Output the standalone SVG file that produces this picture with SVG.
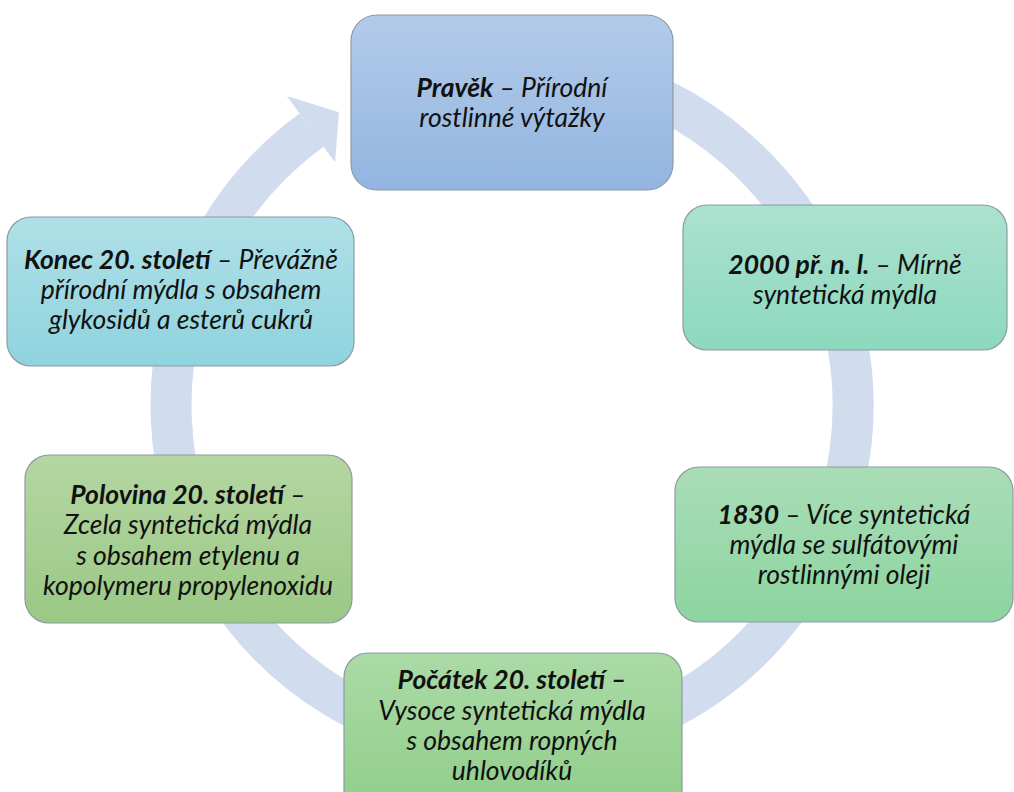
<svg xmlns="http://www.w3.org/2000/svg" width="1014" height="792" viewBox="0 0 1014 792">
  <style>
    .box { stroke: #8c9aa6; stroke-width: 1.2; }
    .t { font-family: Lato, "Open Sans", "Liberation Sans", sans-serif; font-size: 26.5px; font-style: italic; fill: #111; text-anchor: middle; }
    .b { font-weight: bold; }
    .ring { fill: none; stroke: #D1DCEE; stroke-width: 41; }
    .head { fill: #D1DCEE; }
  </style>
  <defs>
    <linearGradient id="gTop" x1="0" y1="0" x2="0" y2="1"><stop offset="0" stop-color="#B3CBE9"/><stop offset="1" stop-color="#93B5E0"/></linearGradient>
    <linearGradient id="gKonec" x1="0" y1="0" x2="0" y2="1"><stop offset="0" stop-color="#B0E0E7"/><stop offset="1" stop-color="#8FD3DE"/></linearGradient>
    <linearGradient id="g2000" x1="0" y1="0" x2="0" y2="1"><stop offset="0" stop-color="#ABE2CF"/><stop offset="1" stop-color="#8DD8BE"/></linearGradient>
    <linearGradient id="g1830" x1="0" y1="0" x2="0" y2="1"><stop offset="0" stop-color="#AADDB7"/><stop offset="1" stop-color="#8CD49F"/></linearGradient>
    <linearGradient id="gPoc" x1="0" y1="0" x2="0" y2="1"><stop offset="0" stop-color="#ABDAA6"/><stop offset="1" stop-color="#8ECD88"/></linearGradient>
    <linearGradient id="gPol" x1="0" y1="0" x2="0" y2="1"><stop offset="0" stop-color="#B4D6A2"/><stop offset="1" stop-color="#9BC885"/></linearGradient>
  </defs>
  <rect width="1014" height="792" fill="#ffffff"/>
  <g id="connectors">
    <path class="ring" d="M423.7,76.6 A341,341 0 1 1 311.6,130.1"/>
    <polygon class="head" points="286.9,96.1 338.9,112.2 335.1,162.5"/>
  </g>
  <g id="node-pravek">
    <rect class="box" x="351" y="15" width="322" height="175" rx="26" fill="url(#gTop)"/>
    <text class="t" x="512" y="97"><tspan class="b">Pravěk</tspan> – Přírodní</text>
    <text class="t" x="512" y="127">rostlinné výtažky</text>
  </g>
  <g id="node-2000">
    <rect class="box" x="683" y="205" width="324" height="145" rx="24" fill="url(#g2000)"/>
    <text class="t" x="845" y="274"><tspan class="b">2000 př. n. l.</tspan> – Mírně</text>
    <text class="t" x="845" y="304">syntetická mýdla</text>
  </g>
  <g id="node-1830">
    <rect class="box" x="675" y="467" width="338" height="155" rx="24" fill="url(#g1830)"/>
    <text class="t" x="844" y="524"><tspan class="b">1830</tspan> – Více syntetická</text>
    <text class="t" x="844" y="554">mýdla se sulfátovými</text>
    <text class="t" x="844" y="584">rostlinnými oleji</text>
  </g>
  <g id="node-pocatek">
    <rect class="box" x="344" y="653" width="338" height="170" rx="24" fill="url(#gPoc)"/>
    <text class="t" x="512" y="689"><tspan class="b">Počátek 20. století –</tspan></text>
    <text class="t" x="512" y="720">Vysoce syntetická mýdla</text>
    <text class="t" x="512" y="750">s obsahem ropných</text>
    <text class="t" x="512" y="780">uhlovodíků</text>
  </g>
  <g id="node-polovina">
    <rect class="box" x="25" y="455" width="327" height="168" rx="24" fill="url(#gPol)"/>
    <text class="t" x="188" y="504"><tspan class="b">Polovina 20. století</tspan> –</text>
    <text class="t" x="188" y="534">Zcela syntetická mýdla</text>
    <text class="t" x="188" y="565">s obsahem etylenu a</text>
    <text class="t" x="188" y="595">kopolymeru propylenoxidu</text>
  </g>
  <g id="node-konec">
    <rect class="box" x="7" y="217" width="347" height="149" rx="24" fill="url(#gKonec)"/>
    <text class="t" x="181" y="269"><tspan class="b">Konec 20. století</tspan> – Převážně</text>
    <text class="t" x="181" y="299">přírodní mýdla s obsahem</text>
    <text class="t" x="181" y="329">glykosidů a esterů cukrů</text>
  </g>
</svg>
